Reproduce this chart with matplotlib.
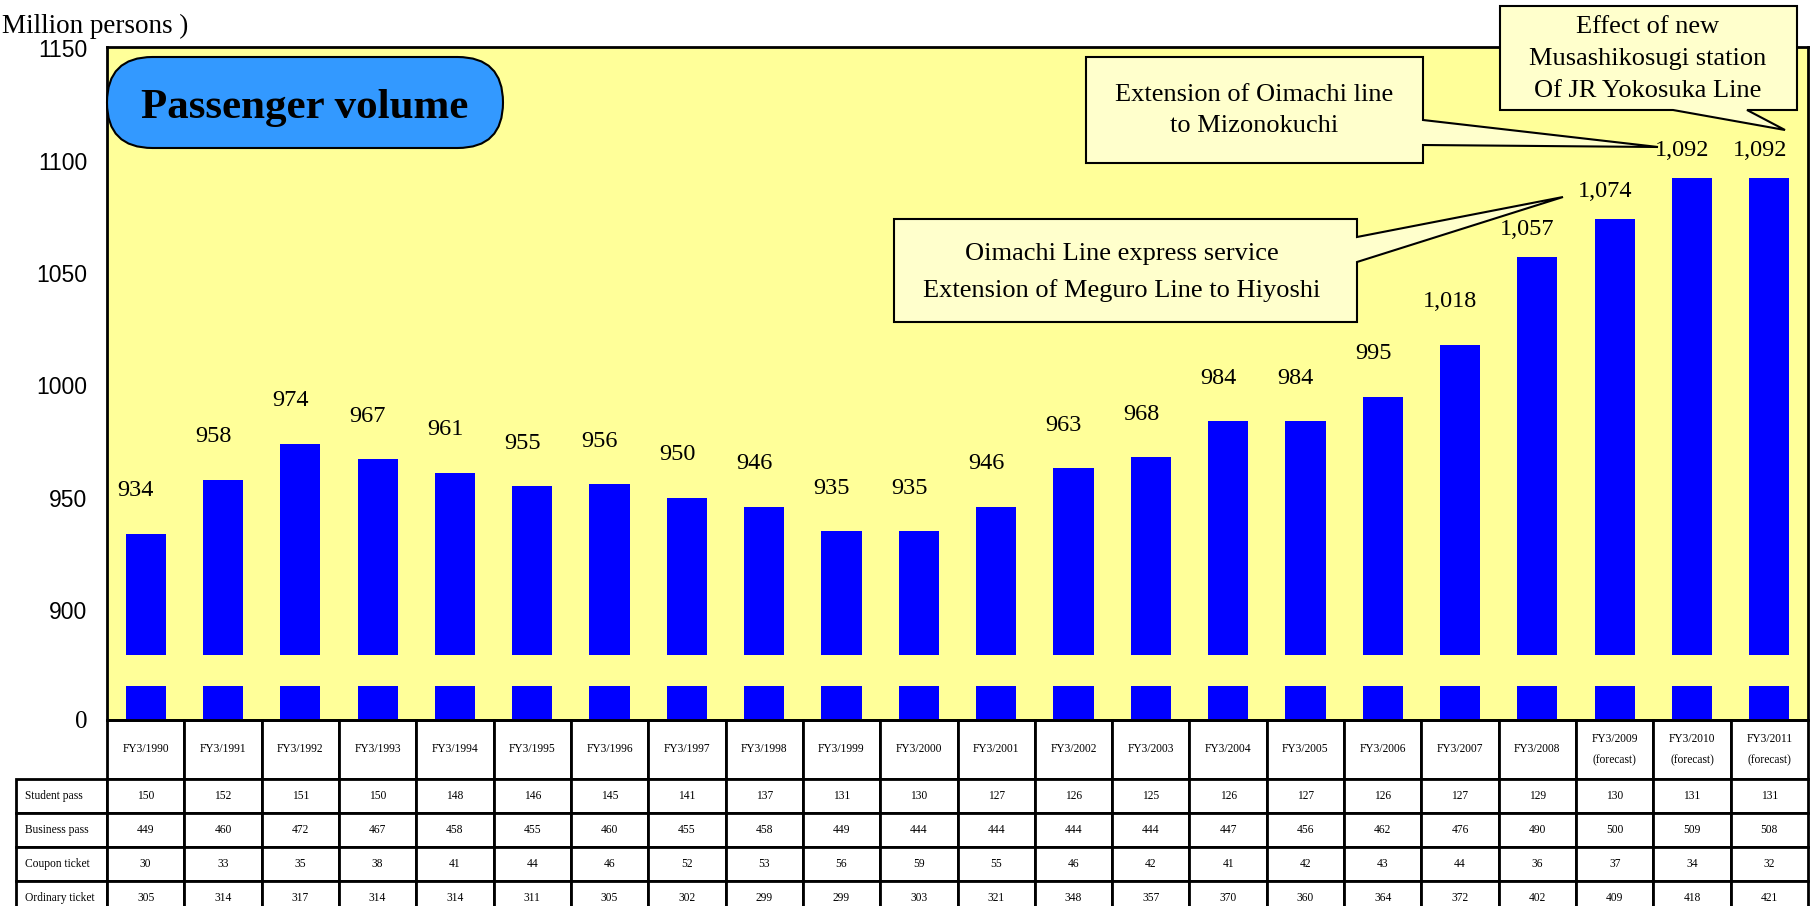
import numpy as np
import matplotlib
matplotlib.use("Agg")
import matplotlib.pyplot as plt
from matplotlib.patches import Polygon, FancyBboxPatch
from matplotlib.transforms import Affine2D
from matplotlib.table import Table

# ---- data -------------------------------------------------------------
years = ["FY3/1990", "FY3/1991", "FY3/1992", "FY3/1993", "FY3/1994", "FY3/1995",
         "FY3/1996", "FY3/1997", "FY3/1998", "FY3/1999", "FY3/2000", "FY3/2001",
         "FY3/2002", "FY3/2003", "FY3/2004", "FY3/2005", "FY3/2006", "FY3/2007",
         "FY3/2008", "FY3/2009\n(forecast)", "FY3/2010\n(forecast)",
         "FY3/2011\n(forecast)"]
passengers = [934, 958, 974, 967, 961, 955, 956, 950, 946, 935, 935, 946,
              963, 968, 984, 984, 995, 1018, 1057, 1074, 1092, 1092]
student_pass = [150, 152, 151, 150, 148, 146, 145, 141, 137, 131, 130, 127,
                126, 125, 126, 127, 126, 127, 129, 130, 131, 131]
business_pass = [449, 460, 472, 467, 458, 455, 460, 455, 458, 449, 444, 444,
                 444, 444, 447, 456, 462, 476, 490, 500, 509, 508]
coupon_ticket = [30, 33, 35, 38, 41, 44, 46, 52, 53, 56, 59, 55,
                 46, 42, 41, 42, 43, 44, 36, 37, 34, 32]
ordinary_ticket = [305, 314, 317, 314, 314, 311, 305, 302, 299, 299, 303, 321,
                   348, 357, 370, 360, 364, 372, 402, 409, 418, 421]
row_names = ["Student pass", "Business pass", "Coupon ticket", "Ordinary ticket"]
y_ticks = [0, 900, 950, 1000, 1050, 1100, 1150]

# ---- style ------------------------------------------------------------
SERIF = "Liberation Serif"
SANS = "Liberation Sans"
PLOT_BG = "#FFFF99"
BAR_C = "#0000FF"
NOTE_BG = "#FFFFCC"
TITLE_BG = "#3399FF"

W, H = 1814, 906
fig = plt.figure(figsize=(W / 100, H / 100), dpi=100)
fig.patch.set_facecolor("white")

# pixel helper: x to the right, y downward from the top-left corner
pxT = Affine2D().scale(1 / W, -1 / H).translate(0, 1) + fig.transFigure

ax_l, ax_r, ax_t, ax_b = 107, 1808, 47, 720
ax_w, ax_h = ax_r - ax_l, ax_b - ax_t
ax = fig.add_axes([ax_l / W, 1 - ax_b / H, ax_w / W, ax_h / H])
ax.set_facecolor(PLOT_BG)

# broken value axis: a short stub for 0..LOW, a gap, then a linear part
LOW, HIGH = 50, 880
v_pts = [-1000, 0, LOW, HIGH, 3000]
u_pts = [-1000 * 34 / LOW, 0, 34, 65, 65 + (3000 - HIGH) * 2.248]


def fwd(v):
    return np.interp(v, v_pts, u_pts)


def inv(u):
    return np.interp(u, u_pts, v_pts)


ax.set_yscale("function", functions=(fwd, inv))

x = np.arange(len(years))
ax.bar(x, passengers, width=0.52, color=BAR_C, zorder=2)
ax.axhspan(LOW, HIGH, color=PLOT_BG, lw=0, zorder=2.2)

ax.set_xlim(-0.5, len(years) - 0.5)
ax.set_ylim(0, 1150.5)
ax.set_xticks([])
ax.set_yticks(y_ticks, labels=[str(t) for t in y_ticks])
ax.tick_params(axis="y", length=0, pad=14, labelsize=16.5)
for lbl in ax.get_yticklabels():
    lbl.set_fontfamily(SANS)
zero_lbl = ax.get_yticklabels()[0]
zero_lbl.set_fontfamily(SERIF)
zero_lbl.set_fontsize(18)
for sp in ax.spines.values():
    sp.set_linewidth(2)
    sp.set_color("black")

# value labels above the bars
for xi, v in zip(x, passengers):
    dy = 20 if v > 1050 else 31
    ax.annotate(f"{v:,}", (xi, v), xytext=(-7, dy), textcoords="offset points",
                ha="center", va="center", fontsize=17.5, fontfamily=SERIF,
                zorder=4)

# ---- data table under the chart (sizes in axes fractions) -----------
col_w = 1 / len(years)
lab_w = 91 / ax_w
head_h = 59 / ax_h
row_h = 34 / ax_h
total_h = head_h + len(row_names) * row_h
tb = Table(ax, bbox=[0, -total_h, 1, total_h])
tb.auto_set_font_size(False)
for j, yr in enumerate(years):
    c = tb.add_cell(0, j, width=col_w, height=head_h, text=yr, loc="center",
                    facecolor="white", edgecolor="black")
    c.get_text().set_linespacing(2.0)
rows = [student_pass, business_pass, coupon_ticket, ordinary_ticket]
for i, (name, vals) in enumerate(zip(row_names, rows), start=1):
    tb.add_cell(i, -1, width=lab_w, height=row_h, text=name, loc="left",
                facecolor="white", edgecolor="black")
    for j, v in enumerate(vals):
        tb.add_cell(i, j, width=col_w, height=row_h, text=str(v), loc="center",
                    facecolor="white", edgecolor="black")
for cell in tb.get_celld().values():
    cell.set_linewidth(2)
    cell.get_text().set_fontfamily(SERIF)
    cell.get_text().set_fontsize(8.3)
ax.add_table(tb)

# ---- headings ---------------------------------------------------------
fig.text(2, 33, "Million persons )", transform=pxT, fontsize=19.5,
         fontfamily=SERIF, ha="left", va="baseline")

title_box = FancyBboxPatch((107, 57), 396, 91,
                           boxstyle="round,pad=0,rounding_size=45.5",
                           transform=pxT, fc=TITLE_BG, ec="black", lw=1.5,
                           zorder=3)
fig.add_artist(title_box)
fig.text(305, 118, "Passenger volume", transform=pxT, fontsize=31,
         fontweight="bold", fontfamily=SERIF, ha="center", va="baseline",
         zorder=4)

# ---- callouts ---------------------------------------------------------
callouts = [
    ([(1500, 6), (1797, 6), (1797, 110), (1747, 110), (1785, 130),
      (1673, 110), (1500, 110)],
     ["Effect of new", "Musashikosugi station", "Of JR Yokosuka Line"],
     1648, [33, 65, 97]),
    ([(1086, 57), (1423, 57), (1423, 120), (1658, 147), (1423, 145),
      (1423, 163), (1086, 163)],
     ["Extension of Oimachi line", "to Mizonokuchi"],
     1254, [101, 132]),
    ([(894, 219), (1357, 219), (1357, 237), (1563, 197), (1357, 262),
      (1357, 322), (894, 322)],
     ["Oimachi Line express service", "Extension of Meguro Line to Hiyoshi"],
     1122, [260, 297]),
]
for verts, lines, cx, baselines in callouts:
    fig.add_artist(Polygon(verts, closed=True, transform=pxT, fc=NOTE_BG,
                           ec="black", lw=1.5, zorder=3))
    for s, by in zip(lines, baselines):
        fig.text(cx, by, s, transform=pxT, fontsize=19, fontfamily=SERIF,
                 ha="center", va="baseline", zorder=4)

fig.savefig("out.png", dpi=100)
